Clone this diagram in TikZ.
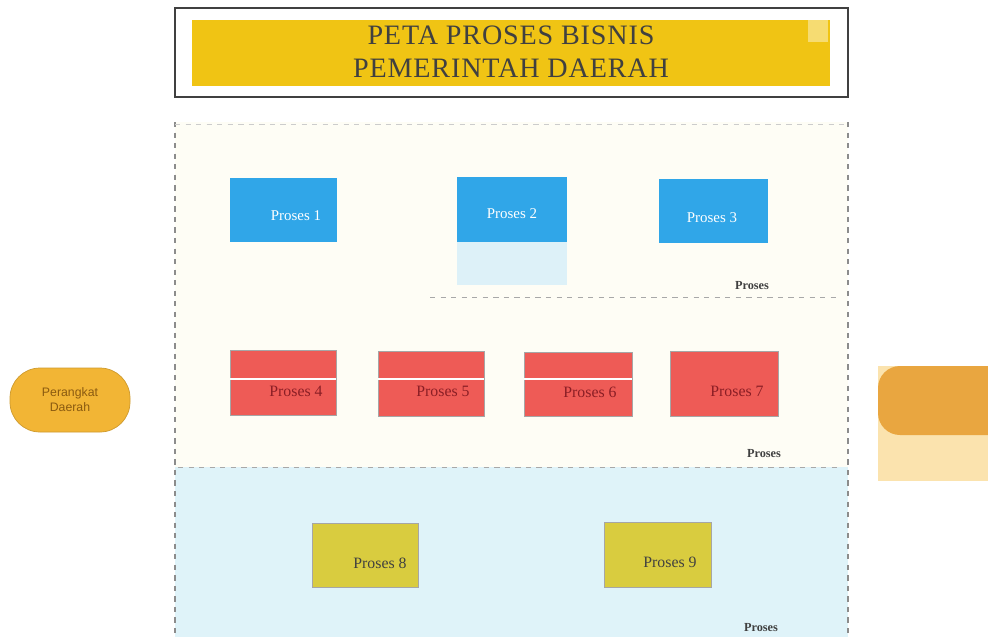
\documentclass[tikz,border=0pt]{standalone}
\usepackage{fontspec}
\setmainfont{Liberation Serif}
\setsansfont{Liberation Sans}
\definecolor{titley}{HTML}{F0C414}
\definecolor{cream}{HTML}{FEFDF5}
\definecolor{lblue}{HTML}{DFF3F9}
\definecolor{pblue}{HTML}{30A6E8}
\definecolor{pblue2}{HTML}{DDF1F8}
\definecolor{pred}{HTML}{EE5B56}
\definecolor{predt}{HTML}{8A1E25}
\definecolor{pyel}{HTML}{D9CC3F}
\definecolor{pill}{HTML}{F2B535}
\definecolor{pillt}{HTML}{8A5A10}
\definecolor{rlight}{HTML}{FBE3AE}
\definecolor{rdark}{HTML}{E9A640}
\definecolor{sep}{HTML}{A8A8A8}
\tikzset{
  bluelbl/.style={text=white, font=\rmfamily\fontsize{8.5}{10}\selectfont},
  redbox/.style={fill=pred, draw=black!35, line width=0.4pt},
  yelbox/.style={fill=pyel, draw=black!35, line width=0.4pt},
  boxlbl/.style={font=\rmfamily\fontsize{9}{10}\selectfont},
  lanelbl/.style={font=\rmfamily\bfseries\fontsize{7}{8}\selectfont, text=black!75},
  sepline/.style={draw=sep, dashed, line width=0.5pt}
}
\begin{document}
\begin{tikzpicture}[x=0.02cm, y=-0.02cm]
\useasboundingbox (0,0) rectangle (988,637);
\fill[white] (0,0) rectangle (988,637);
% title
\draw[line width=1.2pt, draw=black!75] (175,8) rectangle (848,97);
\fill[titley] (192,20) rectangle (830,86);
\fill[titley!60!white] (808,20) rectangle (828,42);
\node[font=\rmfamily\fontsize{16}{19}\selectfont, text=black!75, align=center] (title) at (511,52) {\addfontfeature{LetterSpace=3}PETA PROSES BISNIS\\\addfontfeature{LetterSpace=3}PEMERINTAH DAERAH};
% lanes
\fill[cream] (175,122) rectangle (848,467);
\fill[lblue] (175,467) rectangle (848,637);
\draw[draw=black!45, line width=0.6pt, dashed] (175,122) -- (175,637);
\draw[draw=black!45, line width=0.6pt, dashed] (848,122) -- (848,637);
\draw[sepline, draw=black!20] (175,124) -- (848,124);
\draw[sepline] (430,297) -- (840,297);
\draw[sepline] (178,467) -- (840,467);
% blue boxes
\fill[pblue2] (457,242) rectangle (567,285);
\fill[pblue] (230,178) rectangle (337,242);
\fill[pblue] (457,177) rectangle (567,242);
\fill[pblue] (659,179) rectangle (768,243);
\node[bluelbl] (n1) at (296,216) {Proses 1};
\node[bluelbl] (n2) at (512,214) {Proses 2};
\node[bluelbl] (n3) at (712,218) {Proses 3};
\node[lanelbl] (l1) at (752,286) {Proses};
% red boxes
\node[redbox, minimum width=106*0.02cm, minimum height=65*0.02cm] (p4) at (283,382.5) {};
\node[redbox, minimum width=106*0.02cm, minimum height=65*0.02cm] (p5) at (431,383.5) {};
\node[redbox, minimum width=108*0.02cm, minimum height=64*0.02cm] (p6) at (578,384) {};
\node[redbox, minimum width=108*0.02cm, minimum height=65*0.02cm] (p7) at (724,383.5) {};
\draw[white, line width=0.6pt] (p4.west |- 0,379) -- (p4.east |- 0,379);
\draw[white, line width=0.6pt] (p5.west |- 0,379) -- (p5.east |- 0,379);
\draw[white, line width=0.6pt] (p6.west |- 0,379) -- (p6.east |- 0,379);
\node[boxlbl, text=predt] (t4) at (296,391) {Proses 4};
\node[boxlbl, text=predt] (t5) at (443,391) {Proses 5};
\node[boxlbl, text=predt] (t6) at (590,392) {Proses 6};
\node[boxlbl, text=predt] (t7) at (737,391) {Proses 7};
\node[lanelbl] (l2) at (764,454) {Proses};
% yellow boxes
\node[yelbox, minimum width=106*0.02cm, minimum height=64*0.02cm] (p8) at (365,555) {};
\node[yelbox, minimum width=107*0.02cm, minimum height=65*0.02cm] (p9) at (657.5,554.5) {};
\node[boxlbl, text=black!75] (t8) at (380,563) {Proses 8};
\node[boxlbl, text=black!75] (t9) at (670,562) {Proses 9};
\node[lanelbl] (l3) at (761,628) {Proses};
% left pill
\node[fill=pill, draw=pill!85!black, line width=0.4pt, rounded corners=30*0.02cm, minimum width=120*0.02cm, minimum height=64*0.02cm, align=center, text=pillt, font=\sffamily\fontsize{7}{8.5}\selectfont] (pd) at (70,400) {Perangkat\\Daerah};
% right partial
\fill[rlight] (878,366) rectangle (988,481);
\fill[rdark, rounded corners=22*0.02cm] (878,366) rectangle (1010,435);
\end{tikzpicture}
\end{document}
